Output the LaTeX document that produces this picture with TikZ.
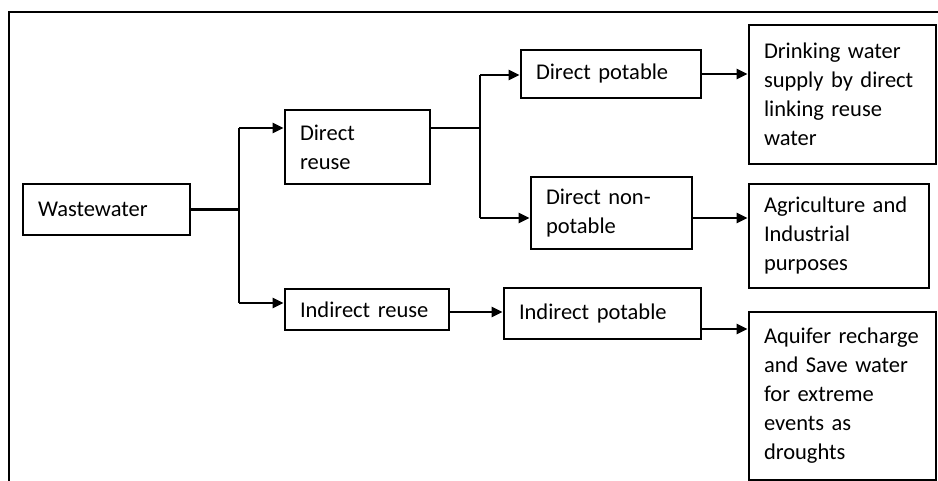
\documentclass[tikz,border=0pt]{standalone}
\usepackage{fontspec}
\setmainfont{Carlito}
\usetikzlibrary{arrows.meta}

\tikzset{
  box/.style={draw, line width=2.8pt, inner xsep=15pt, inner ysep=0pt, align=left,
              font=\fontsize{22.5}{29}\selectfont},
  line/.style={line width=2.8pt},
  arr/.style={line width=2.8pt, -{Triangle[length=11pt,width=10pt]}}
}

\begin{document}
\begin{tikzpicture}[x=1pt, y=-1pt]
                    \useasboundingbox (0,0) rectangle (938,481);
                    \draw[line] (9,481) -- (9,12) -- (938,12);
                    \node[box, minimum width=167pt, minimum height=51pt, text width=137pt] (ww) at (106.5,209.5) {Wastewater};
                    \node[box, minimum width=145pt, minimum height=74pt, text width=115pt] (dr) at (357.5,147) {Direct\\reuse};
                    \node[box, minimum width=164pt, minimum height=41pt, text width=134pt] (ir) at (367,309.5) {Indirect reuse};
                    \node[box, minimum width=180pt, minimum height=48pt, text width=150pt] (dp) at (611,74) {Direct potable};
                    \node[box, minimum width=161pt, minimum height=72pt, text width=131pt] (dnp) at (611.5,213) {Direct non-\\potable};
                    \node[box, minimum width=197pt, minimum height=51pt, text width=167pt] (ip) at (602.5,313.5) {Indirect potable};
                    \node[box, minimum width=187pt, minimum height=139pt, text width=157pt] (dw) at (842.5,94.5) {Drinking water\\supply by direct\\linking reuse\\water};
                    \node[box, minimum width=180pt, minimum height=104pt, text width=150pt] (agr) at (839,236) {Agriculture and\\Industrial\\purposes};
                    \node[box, minimum width=187pt, minimum height=168pt, text width=157pt] (aq) at (842.5,396) {Aquifer recharge\\and Save water\\for extreme\\events as\\droughts};
                    \coordinate (s1) at (239,128);
                    \coordinate (s2) at (239,303);
                    \coordinate (s3) at (480,75);
                    \coordinate (s4) at (480,218);
                    \coordinate (s5) at (470,312);
                    \coordinate (s6) at (725,329);
                    \draw[line] (ww.east) -- (ww.east -| s1);
                    \draw[line] (s1) -- (s2);
                    \draw[arr] (s1) -- (s1 -| dr.west);
                    \draw[arr] (s2) -- (s2 -| ir.west);
                    \draw[line] (s1 -| dr.east) -- (s1 -| s3);
                    \draw[line] (s3) -- (s4);
                    \draw[arr] (s3) -- (s3 -| dp.west);
                    \draw[arr] (s4) -- (s4 -| dnp.west);
                    \draw[arr] (dp.east) -- (dp.east -| dw.west);
                    \draw[arr] (s4 -| dnp.east) -- (s4 -| agr.west);
                    \draw[arr] (s5 -| ir.east) -- (s5 -| ip.west);
                    \draw[arr] (s6 -| ip.east) -- (s6 -| aq.west);
                \end{tikzpicture}
\end{document}
